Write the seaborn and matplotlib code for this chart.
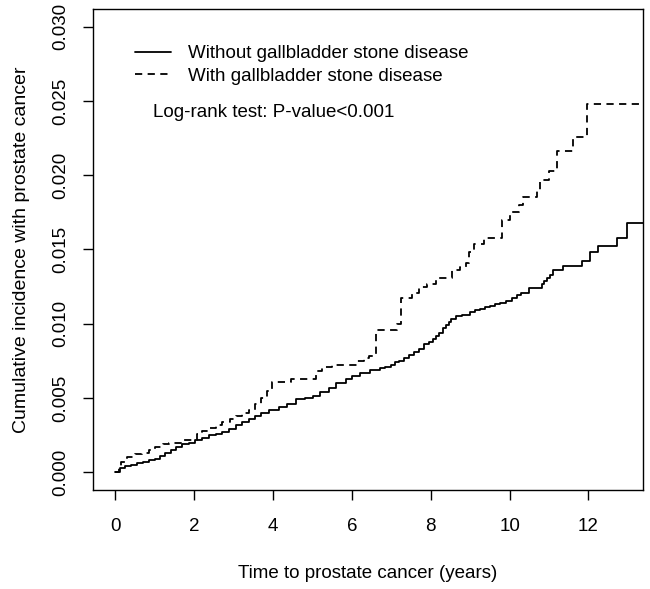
import matplotlib
matplotlib.use("Agg")
import matplotlib.pyplot as plt
import seaborn as sns
import pandas as pd

# -----------------------------------------------------------------------------
# Data (cumulative incidence step curves)
# -----------------------------------------------------------------------------
t_without = [0, 0.12, 0.25, 0.4, 0.55, 0.7, 0.85, 1.0, 1.13, 1.27, 1.4, 1.53,
             1.7, 1.86, 2.03, 2.2, 2.37, 2.55, 2.7, 2.88, 3.05, 3.2, 3.4, 3.55,
             3.7, 3.9, 4.15, 4.35, 4.58, 4.8, 5.0, 5.2, 5.42, 5.6, 5.85, 6.0,
             6.2, 6.45, 6.7, 6.85, 7.0, 7.1, 7.2, 7.33, 7.45, 7.58, 7.7, 7.83,
             7.96, 8.05, 8.14, 8.22, 8.3, 8.38, 8.45, 8.52, 8.65, 8.8, 9.0,
             9.12, 9.24, 9.38, 9.5, 9.62, 9.75, 9.9, 10.05, 10.2, 10.3, 10.48,
             10.81, 10.88, 10.95, 11.02, 11.1, 11.35, 11.83, 12.03, 12.24,
             12.72, 12.98, 13.4]
y_without = [0, 0.0003, 0.0004, 0.0005, 0.0006, 0.0007, 0.0008, 0.0009, 0.0011,
             0.0013, 0.0015, 0.0017, 0.0019, 0.0020, 0.0022, 0.0023, 0.0025,
             0.0026, 0.0027, 0.0029, 0.0032, 0.0034, 0.0036, 0.0038, 0.0040,
             0.0042, 0.0044, 0.0046, 0.0049, 0.0050, 0.0051, 0.0054, 0.0057,
             0.0060, 0.0063, 0.0065, 0.0067, 0.0069, 0.0070, 0.0071, 0.0072,
             0.0074, 0.0075, 0.0077, 0.0079, 0.0081, 0.0083, 0.0086, 0.0088,
             0.0090, 0.0092, 0.0094, 0.0097, 0.0099, 0.0101, 0.0103, 0.0105,
             0.0106, 0.0108, 0.0109, 0.0110, 0.0111, 0.0112, 0.0113, 0.0114,
             0.0115, 0.0117, 0.0119, 0.0121, 0.0124, 0.0127, 0.0129, 0.0131,
             0.0133, 0.0136, 0.0139, 0.0142, 0.0148, 0.0152, 0.0158, 0.0168,
             0.0168]

t_with = [0, 0.08, 0.15, 0.3, 0.5, 0.67, 0.85, 1.0, 1.2, 1.35, 1.7, 2.07, 2.2,
          2.37, 2.55, 2.7, 2.9, 3.05, 3.2, 3.38, 3.55, 3.7, 3.85, 3.97, 4.45,
          5.1, 5.25, 5.5, 6.13, 6.3, 6.44, 6.6, 7.15, 7.25, 7.53, 7.7, 7.9,
          8.14, 8.55, 8.73, 8.9, 8.98, 9.1, 9.36, 9.8, 10.0, 10.25, 10.33,
          10.7, 10.76, 11.0, 11.2, 11.6, 11.96, 13.4]
y_with = [0, 0.0004, 0.0007, 0.0010, 0.0012, 0.0013, 0.0015, 0.0017, 0.0019,
          0.0020, 0.0022, 0.0026, 0.0028, 0.0030, 0.0032, 0.0034, 0.0036,
          0.0038, 0.0040, 0.0042, 0.0046, 0.0050, 0.0055, 0.0061, 0.0063,
          0.0068, 0.0071, 0.0072, 0.0075, 0.0077, 0.0078, 0.0096, 0.0100,
          0.0117, 0.0121, 0.0125, 0.0127, 0.0131, 0.0136, 0.0138, 0.0141,
          0.0148, 0.0154, 0.0158, 0.0170, 0.0175, 0.0180, 0.0185, 0.0190,
          0.0197, 0.0203, 0.0216, 0.0226, 0.0248, 0.0248]

x_ticks = [0, 2, 4, 6, 8, 10, 12]
y_ticks = [0.000, 0.005, 0.010, 0.015, 0.020, 0.025, 0.030]
y_tick_labels = ["0.000", "0.005", "0.010", "0.015", "0.020", "0.025", "0.030"]

labels = ["Without gallbladder stone disease", "With gallbladder stone disease"]

df_without = pd.DataFrame({"time": t_without, "cuminc": y_without})
df_with = pd.DataFrame({"time": t_with, "cuminc": y_with})

# -----------------------------------------------------------------------------
# Style (R base graphics look)
# -----------------------------------------------------------------------------
sns.set_style("ticks")
plt.rcParams["font.family"] = ["Liberation Sans", "DejaVu Sans"]
plt.rcParams["font.size"] = 13.5
plt.rcParams["text.color"] = "black"
plt.rcParams["axes.labelcolor"] = "black"
plt.rcParams["xtick.color"] = "black"
plt.rcParams["ytick.color"] = "black"
plt.rcParams["axes.edgecolor"] = "black"

fig = plt.figure(figsize=(6.5, 5.89), dpi=100)
ax = fig.add_axes([0.143, 0.168, 0.846, 0.817])

sns.lineplot(data=df_without, x="time", y="cuminc", ax=ax, color="black",
             linewidth=1.3, drawstyle="steps-post", label=labels[0])
sns.lineplot(data=df_with, x="time", y="cuminc", ax=ax, color="black",
             linewidth=1.3, drawstyle="steps-post", linestyle=(0, (4, 3)),
             label=labels[1])

ax.set_xlim(-0.57, 13.38)
ax.set_ylim(-0.0012, 0.0312)
ax.set_xticks(x_ticks)
ax.set_yticks(y_ticks)
ax.set_yticklabels(y_tick_labels, rotation=90, va="center")
ax.tick_params(axis="x", length=7, width=1, pad=13, labelsize=13.5)
ax.tick_params(axis="y", length=7, width=1, pad=10, labelsize=13.5)
for side in ["top", "right", "left", "bottom"]:
    ax.spines[side].set_visible(True)
    ax.spines[side].set_linewidth(1.0)

ax.set_xlabel("Time to prostate cancer (years)", fontsize=13.5, labelpad=22)
ax.set_ylabel("Cumulative incidence with prostate cancer", fontsize=14,
              labelpad=16)

ax.legend(loc="upper left", bbox_to_anchor=(0.046, 0.96), frameon=False,
          handlelength=1.9, handletextpad=0.9, labelspacing=0.3, fontsize=13.5)
ax.text(0.109, 0.785, "Log-rank test: P-value<0.001", transform=ax.transAxes,
        fontsize=13.5, va="center", ha="left")

fig.savefig("out.png", dpi=100)
